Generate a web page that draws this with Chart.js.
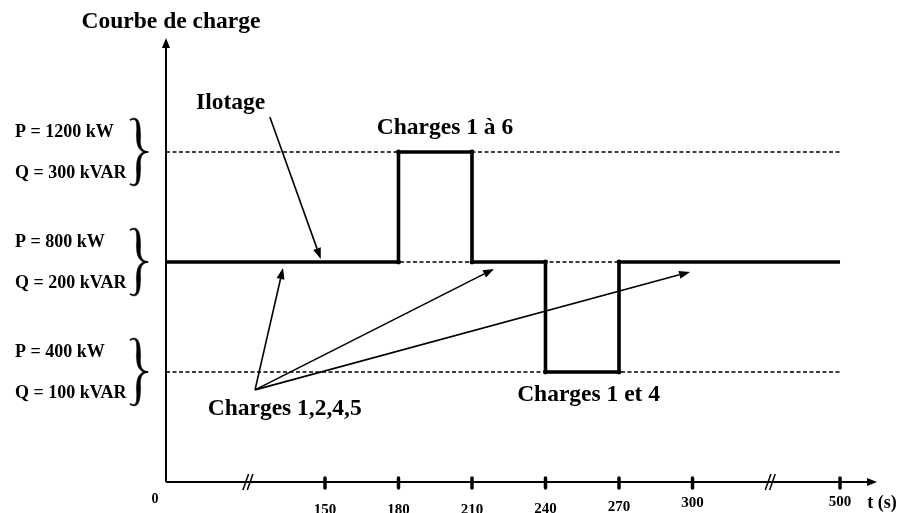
<!DOCTYPE html>
<html><head><meta charset="utf-8">
<script src="https://cdn.jsdelivr.net/npm/chart.js@4"></script>
<style>html,body{margin:0;padding:0;background:#fff}#wrap{width:900px;height:513px;position:relative}</style>
</head><body><div id="wrap"><canvas id="c"></canvas></div>
<script>
// ---- data ----
const levels = [400, 800, 1200];
const levelLabelsP = ['P = 400 kW', 'P = 800 kW', 'P = 1200 kW'];
const levelLabelsQ = ['Q = 100 kVAR', 'Q = 200 kVAR', 'Q = 300 kVAR'];
const stepTimes = [0, 180, 180, 210, 210, 240, 240, 270, 270, 500];
const stepLoads = [800, 800, 1200, 1200, 800, 800, 400, 400, 800, 800];
const tickValues = [150, 180, 210, 240, 270, 300, 500];
const tickLabels = ['150', '180', '210', '240', '270', '300', '500'];
const breakTimes = [77, 405];
const levelStart = 0, levelEnd = 500;

// label vertical offsets (style only)
const tickLabelDy = [28, 28, 28, 27, 25, 21, 20];

// ---- broken time axis (0..150 and 300..500 compressed) ----
const axisKnots = [0, 150, 300, 500, 515];
const axisFractions = [0, 0.2236, 0.7405, 0.948, 1];
const Linear = Chart.LinearScale || Chart.registry.getScale('linear');
class BrokenScale extends Linear {
  static id = 'broken';
  getPixelForValue(v) {
    let i = 0;
    while (i < axisKnots.length - 2 && v > axisKnots[i + 1]) i++;
    const f = axisFractions[i] + (v - axisKnots[i]) / (axisKnots[i + 1] - axisKnots[i]) * (axisFractions[i + 1] - axisFractions[i]);
    return this.left + f * this.width;
  }
  getValueForPixel(p) {
    const f = (p - this.left) / this.width;
    let i = 0;
    while (i < axisFractions.length - 2 && f > axisFractions[i + 1]) i++;
    return axisKnots[i] + (f - axisFractions[i]) / (axisFractions[i + 1] - axisFractions[i]) * (axisKnots[i + 1] - axisKnots[i]);
  }
}
Chart.register(BrokenScale);

const SERIF = '"Liberation Serif", "Times New Roman", serif';
const notes = [
  { text: 'Courbe de charge', x: 4.7, y: 1673 },
  { text: 'Ilotage', x: 61, y: 1378 },
  { text: 'Charges 1 à 6', x: 199, y: 1287 },
  { text: 'Charges 1 et 4', x: 257.6, y: 316 },
  { text: 'Charges 1,2,4,5', x: 112, y: 265 }
];
const arrows = [
  { from: [98, 1327], to: [146, 811] },
  { from: [84, 335], to: [110.4, 778] },
  { from: [84, 335], to: [219, 775] },
  { from: [84, 335], to: [299, 764] }
];

function drawArrow(ctx, x1, y1, x2, y2, lw, hl, hw) {
  const a = Math.atan2(y2 - y1, x2 - x1);
  const bx = x2 - hl * Math.cos(a), by = y2 - hl * Math.sin(a);
  ctx.beginPath(); ctx.moveTo(x1, y1); ctx.lineTo(bx, by); ctx.lineWidth = lw; ctx.stroke();
  ctx.beginPath(); ctx.moveTo(x2, y2);
  ctx.lineTo(bx + hw * Math.sin(a), by - hw * Math.cos(a));
  ctx.lineTo(bx - hw * Math.sin(a), by + hw * Math.cos(a));
  ctx.closePath(); ctx.fill();
}

function bez(p0, p1, p2, p3, t) {
  const u = 1 - t;
  return [u*u*u*p0[0] + 3*u*u*t*p1[0] + 3*u*t*t*p2[0] + t*t*t*p3[0],
          u*u*u*p0[1] + 3*u*u*t*p1[1] + 3*u*t*t*p2[1] + t*t*t*p3[1]];
}

// calligraphic right curly brace, tip at (xt, ym)
function drawBrace(ctx, ym) {
  const xl = 130, xb = 138.5, xt = 148, h = 34;
  const y0 = ym - h;
  const segs = [
    [[xl, y0 + 2], [xb - 1, y0 - 2], [xb, y0 + 5], [xb, y0 + 14]],
    [[xb, y0 + 14], [xb, y0 + 17], [xb, ym - 16], [xb, ym - 13]],
    [[xb, ym - 13], [xb, ym - 4], [xt - 6, ym], [xt, ym]]
  ];
  const pts = [];
  segs.forEach((s, k) => {
    for (let i = (k === 0 ? 0 : 1); i <= 20; i++) pts.push(bez(s[0], s[1], s[2], s[3], i / 20));
  });
  const n = pts.length;
  const left = [], right = [];
  for (let i = 0; i < n; i++) {
    const a = pts[Math.max(0, i - 1)], b = pts[Math.min(n - 1, i + 1)];
    let dx = b[0] - a[0], dy = b[1] - a[1];
    const len = Math.hypot(dx, dy) || 1; dx /= len; dy /= len;
    const t = i / (n - 1);
    const w = 0.9 + 3.3 * Math.pow(Math.sin(Math.PI * t), 1.2);
    left.push([pts[i][0] - dy * w / 2, pts[i][1] + dx * w / 2]);
    right.push([pts[i][0] + dy * w / 2, pts[i][1] - dx * w / 2]);
  }
  [1, -1].forEach(sgn => {
    ctx.beginPath();
    const map = p => [p[0], ym + sgn * (p[1] - ym)];
    const L = left.map(map), R = right.map(map);
    ctx.moveTo(L[0][0], L[0][1]);
    for (let i = 1; i < n; i++) ctx.lineTo(L[i][0], L[i][1]);
    for (let i = n - 1; i >= 0; i--) ctx.lineTo(R[i][0], R[i][1]);
    ctx.closePath(); ctx.fill();
    ctx.lineWidth = 0.6; ctx.stroke();
  });
}

const decor = {
  id: 'decor',
  afterDatasetsDraw(chart) {
    const ctx = chart.ctx, xs = chart.scales.x, ys = chart.scales.y, ca = chart.chartArea;
    ctx.save();
    ctx.strokeStyle = '#000'; ctx.fillStyle = '#000';
    // axes
    drawArrow(ctx, ca.left, ca.bottom, ca.left, ca.top - 4, 2, 10, 4);
    drawArrow(ctx, ca.left, ca.bottom, ca.right, ca.bottom, 2, 10, 4);
    // tick marks + labels
    ctx.font = 'bold 15px ' + SERIF; ctx.textAlign = 'center'; ctx.textBaseline = 'middle';
    tickValues.forEach((v, i) => {
      const px = xs.getPixelForValue(v);
      ctx.lineCap = 'round'; ctx.lineWidth = 3.5;
      ctx.beginPath(); ctx.moveTo(px, ca.bottom - 4); ctx.lineTo(px, ca.bottom + 6); ctx.stroke();
      ctx.fillText(tickLabels[i], px, ca.bottom + tickLabelDy[i]);
    });
    ctx.lineCap = 'butt'; ctx.lineWidth = 1.5;
    breakTimes.forEach(v => {
      const cx = xs.getPixelForValue(v);
      [[-4.7, 1], [-0.3, 5.3]].forEach(([a, b]) => {
        ctx.beginPath(); ctx.moveTo(cx + a, ca.bottom + 8); ctx.lineTo(cx + b, ca.bottom - 8); ctx.stroke();
      });
    });
    // origin + unit labels
    ctx.font = 'bold 14px ' + SERIF;
    ctx.fillText('0', ca.left - 11, ca.bottom + 17);
    ctx.font = 'bold 18px ' + SERIF;
    ctx.fillText('t (s)', ca.right + 5, ca.bottom + 21);
    // level labels and braces
    levels.forEach((L, i) => {
      const py = ys.getPixelForValue(L);
      ctx.font = 'bold 18px ' + SERIF; ctx.textAlign = 'left'; ctx.textBaseline = 'middle';
      ctx.fillText(levelLabelsP[i], 15, py - 20);
      ctx.fillText(levelLabelsQ[i], 15, py + 21);
      ctx.save(); drawBrace(ctx, py); ctx.restore();
    });
    // annotations
    ctx.textAlign = 'center'; ctx.textBaseline = 'middle';
    ctx.font = 'bold 23.5px ' + SERIF;
    notes.forEach(n => {
      ctx.fillText(n.text, xs.getPixelForValue(n.x), ys.getPixelForValue(n.y));
    });
    ctx.lineCap = 'butt';
    arrows.forEach(a => {
      drawArrow(ctx, xs.getPixelForValue(a.from[0]), ys.getPixelForValue(a.from[1]),
        xs.getPixelForValue(a.to[0]), ys.getPixelForValue(a.to[1]), 1.6, 11, 4);
    });
    ctx.restore();
  }
};

const lastIdx = stepTimes.length - 1;
const datasets = [{
  label: 'Courbe de charge',
  data: stepTimes.map((t, i) => ({ x: t, y: stepLoads[i] })),
  borderColor: '#000', backgroundColor: '#000', borderWidth: 3.6,
  pointRadius: c => (c.dataIndex === 0 || c.dataIndex === lastIdx) ? 0 : 2.4,
  pointBorderWidth: 0, pointBackgroundColor: '#000',
  tension: 0, fill: false, order: 0
}];
levels.forEach(L => datasets.push({
  label: 'niveau ' + L,
  data: [{ x: levelStart, y: L }, { x: levelEnd, y: L }],
  borderColor: '#000', borderWidth: 1.3, borderDash: [4, 2.5],
  pointRadius: 0, tension: 0, fill: false, order: 1
}));

new Chart(document.getElementById('c'), {
  type: 'line',
  data: { datasets },
  options: {
    responsive: true, maintainAspectRatio: false, animation: false,
    layout: { padding: { left: 166, right: 23, top: 42, bottom: 0 } },
    plugins: { legend: { display: false }, tooltip: { enabled: false } },
    scales: {
      x: {
        type: 'broken', min: 0, max: 515,
        grid: { display: false, drawTicks: false }, border: { display: false },
        afterBuildTicks: s => { s.ticks = tickValues.map(v => ({ value: v })); },
        afterFit: s => { s.height = 31; },
        ticks: { display: false, autoSkip: false, maxRotation: 0, callback: (v, i) => tickLabels[i] }
      },
      y: { type: 'linear', display: false, min: 0, max: 1600 }
    }
  },
  plugins: [decor]
});
</script>
</body></html>
